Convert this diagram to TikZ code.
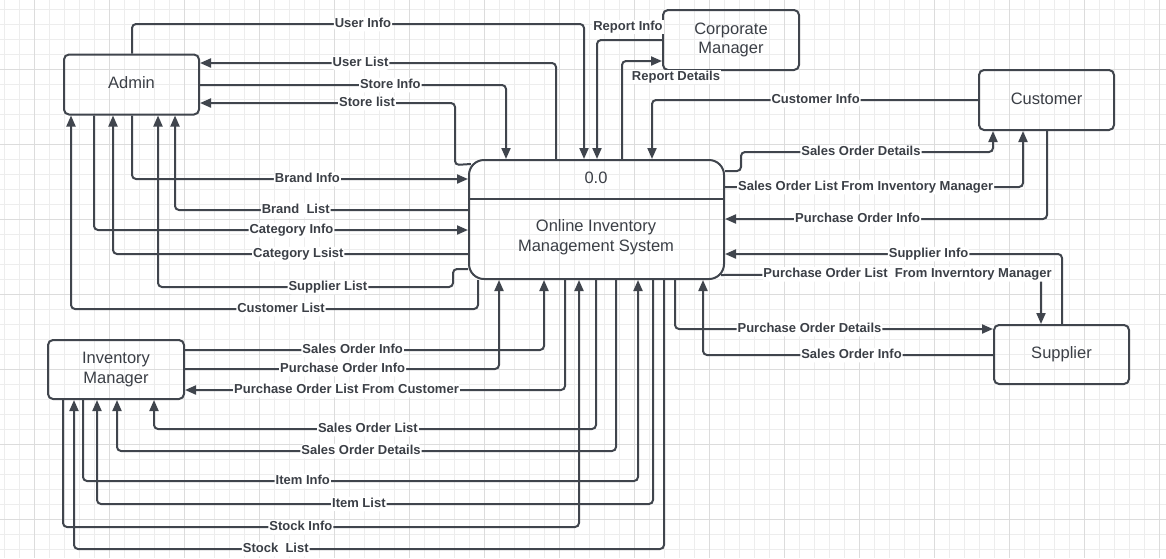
\documentclass[tikz,border=0pt]{standalone}
\usepackage{fontspec}
\setmainfont{Liberation Sans}
\usetikzlibrary{arrows.meta}
\definecolor{linecol}{HTML}{40454D}
\definecolor{textcol}{HTML}{3B3F46}
\definecolor{gridminor}{HTML}{EDEDED}
\definecolor{gridmajor}{HTML}{DCDCDC}
\begin{document}
\begin{tikzpicture}[x=1pt,y=-1pt,
  entity/.style={rectangle,draw=linecol,line width=2pt,rounded corners=5pt,minimum width=135pt,minimum height=60pt,text=textcol,font=\fontsize{16.5}{19.7}\selectfont,align=center},
  process/.style={rectangle,draw=linecol,line width=2pt,rounded corners=15pt,minimum width=255pt,minimum height=119pt},
  ptext/.style={text=textcol,font=\fontsize{16.5}{19.7}\selectfont,align=center},
  link/.style={draw=linecol,line width=2pt,rounded corners=4pt},
  flow/.style={link,-{Triangle[length=11pt,width=9pt]}},
  lbl/.style={fill=white,inner sep=1pt,text height=9.5pt,text depth=3pt,text=textcol,font=\bfseries\fontsize{13}{15}\selectfont}]
  \useasboundingbox (0,0) rectangle (1166,558);
  % draw grid
  \fill[white] (0,0) rectangle (1166,558);
  \foreach \gx in {0,...,77}
    \draw[gridminor,line width=1pt] (4.3+15*\gx,0) -- (4.3+15*\gx,558);
  \foreach \gy in {0,...,36}
    \draw[gridminor,line width=1pt] (0,9.3+15*\gy) -- (1166,9.3+15*\gy);
  \foreach \gx in {0,...,15}
    \draw[gridmajor,line width=1pt] (34.3+75*\gx,0) -- (34.3+75*\gx,558);
  \foreach \gy in {0,...,6}
    \draw[gridmajor,line width=1pt] (0,69.3+75*\gy) -- (1166,69.3+75*\gy);
  % draw entities
  \node at(131.5,84.5)[entity,text depth=3.5pt](admin){Admin};
  \node at(731,40)[entity,minimum width=136pt](corp){Corporate\\Manager};
  \node at(1046.5,100)[entity,text depth=3.5pt](cust){Customer};
  \node at(116,369.5)[entity,minimum width=136pt,minimum height=59pt](invm){Inventory\\Manager};
  \node at(1061.5,354.5)[entity,minimum height=59pt](supp){Supplier};
  % draw process
  \node at(596.5,219.5)[process](proc){};
  \node at(596,178)[ptext](procid){0.0};
  \draw[link] (proc.west |- 0,199) -- (proc.east |- 0,199);
  \node at(596,237)[ptext](procname){Online Inventory\\Management System};
  % draw flows between admin and process
  \draw[flow] (admin.north -| 132,0) -- (132,24) -- node[lbl,pos=.511](luinfo){User Info} (584,24) -- (proc.north -| 584,0);
  \draw[flow] (proc.north -| 556,0) -- (556,63) -- node[lbl,pos=.549](lulist){User List} (admin.east |- 0,63);
  \draw[flow] (admin.east |- 0,85) -- node[lbl,pos=.622](lsinfo){Store Info} (506,85) -- (proc.north -| 506,0);
  \draw[flow] ([shift={(3,5)}]proc.north west) -- (455,165) -- (455,103) -- node[lbl,pos=.345](lslist){Store list} (admin.east |- 0,103);
  \draw[flow] (admin.south -| 132,0) -- (132,179) -- node[lbl,pos=.522](lbinfo){Brand Info} (proc.west |- 0,179);
  \draw[flow] (proc.west |- 0,210) -- node[lbl,pos=.588](lblist){Brand\ \ List} (175,210) -- (admin.south -| 175,0);
  \draw[flow] (admin.south -| 94,0) -- (94,230) -- node[lbl,pos=.528](lcinfo){Category Info} (proc.west |- 0,230);
  \draw[flow] (proc.west |- 0,254) -- node[lbl,pos=.478](lclist){Category Lsist} (113,254) -- (admin.south -| 113,0);
  \draw[flow] (proc.west |- 0,269) -- (453,269) -- (453,287) -- node[lbl,pos=.424](lsuplist){Supplier List} (158,287) -- (admin.south -| 158,0);
  \draw[flow] (proc.south -| 478,0) -- (478,309) -- node[lbl,pos=.484](lcustlist){Customer List} (71,309) -- (admin.south -| 71,0);
  % draw flows between corporate manager and process
  \draw[flow] (corp.west |- 0,40) -- (597,40) -- (proc.north -| 597,0);
  \node at(628,27)[lbl](lrinfo){Report Info};
  \draw[flow] (proc.north -| 622,0) -- (622,61) -- (corp.west |- 0,61);
  \node at(676,77)[lbl](lrdet){Report Details};
  % draw flows between customer and process
  \draw[flow] (cust.west |- 0,100) -- node[lbl,pos=.498](lcustinfo){Customer Info} (652,100) -- (proc.north -| 652,0);
  \draw[flow] (proc.east |- 0,171) -- (741,171) -- (741,152) -- node[lbl,pos=.476](lsodet){Sales Order Details} (993,152) -- (cust.south -| 993,0);
  \draw[flow] (proc.east |- 0,187) -- node[lbl,pos=.472](lsolist){Sales Order List From Inventory Manager} (1023,187) -- (cust.south -| 1023,0);
  \draw[flow] (cust.south -| 1047,0) -- (1047,219) -- node[lbl,pos=.588](lpoinfo){Purchase Order Info} (proc.east |- 0,219);
  % draw flows between supplier and process
  \draw[flow] (supp.north -| 1062,0) -- (1062,254) -- node[lbl,pos=.396](lsupinfo){Supplier Info} (proc.east |- 0,254);
  \draw[flow] ([shift={(-4,-5)}]proc.south east) -- node[lbl,pos=.583](lpolist){Purchase Order List\ \ From Inverntory Manager} (1041,274) -- (supp.north -| 1041,0);
  \draw[flow] (proc.south -| 675,0) -- (675,329) -- node[lbl,pos=.423](lpodet){Purchase Order Details} (supp.west |- 0,329);
  \draw[flow] (supp.west |- 0,355) -- node[lbl,pos=.488](lsoinfo){Sales Order Info} (703,355) -- (proc.south -| 703,0);
  % draw flows between inventory manager and process
  \draw[flow] (invm.east |- 0,350) -- node[lbl,pos=.467](limsoinfo){Sales Order Info} (544,350) -- (proc.south -| 544,0);
  \draw[flow] (invm.east |- 0,369) -- node[lbl,pos=.502](limpoinfo){Purchase Order Info} (499,369) -- (proc.south -| 499,0);
  \draw[flow] (proc.south -| 565,0) -- (565,390) -- node[lbl,pos=.575](limpolist){Purchase Order List From Customer} (invm.east |- 0,390);
  \draw[flow] (proc.south -| 596,0) -- (596,429) -- node[lbl,pos=.516](limsolist){Sales Order List} (154,429) -- (invm.south -| 154,0);
  \draw[flow] (proc.south -| 616,0) -- (616,451) -- node[lbl,pos=.511](limsodet){Sales Order Details} (117,451) -- (invm.south -| 117,0);
  \draw[flow] (invm.south -| 83,0) -- (83,481) -- node[lbl,pos=.396](liinfo){Item Info} (638,481) -- (proc.south -| 638,0);
  \draw[flow] (proc.south -| 653,0) -- (653,504) -- node[lbl,pos=.529](lilist){Item List} (97,504) -- (invm.south -| 97,0);
  \draw[flow] (invm.south -| 63,0) -- (63,527) -- node[lbl,pos=.461](lstinfo){Stock Info} (579,527) -- (proc.south -| 579,0);
  \draw[flow] (proc.south -| 664,0) -- (664,549) -- node[lbl,pos=.658](lstlist){Stock\ \ List} (74,549) -- (invm.south -| 74,0);
\end{tikzpicture}
\end{document}
